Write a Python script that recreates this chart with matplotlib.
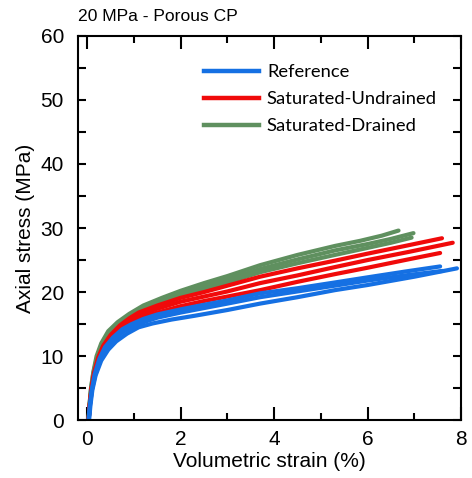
import matplotlib
matplotlib.use("Agg")
import matplotlib.pyplot as plt
from matplotlib.lines import Line2D
from matplotlib.ticker import MultipleLocator

# ---- data (volumetric strain %, axial stress MPa) ----
ref_1_x = [0.03, 0.06, 0.10, 0.16, 0.26, 0.38, 0.55, 0.75, 0.95, 1.2, 1.5, 2.0, 2.56, 3.0, 3.7, 4.5, 5.3, 6.0, 6.8, 7.55]
ref_1_y = [0, 2.4, 4.8, 7.2, 9.6, 11.4, 12.9, 14.2, 15.0, 15.8, 16.5, 17.3, 18.1, 18.7, 19.8, 20.6, 21.5, 22.3, 23.2, 24.0]
ref_2_x = [0.03, 0.06, 0.10, 0.17, 0.28, 0.40, 0.57, 0.77, 1.0, 1.25, 1.5, 2.0, 2.5, 3.0, 3.7, 4.5, 5.3, 6.0, 6.8, 7.6]
ref_2_y = [0, 2.4, 4.7, 7.0, 9.4, 11.1, 12.6, 13.8, 14.7, 15.4, 16.0, 16.8, 17.5, 18.2, 19.2, 20.1, 21.0, 21.8, 22.6, 23.3]
ref_3_x = [0.04, 0.07, 0.11, 0.18, 0.30, 0.45, 0.62, 0.85, 1.1, 1.4, 1.8, 2.3, 3.0, 3.7, 4.5, 5.3, 6.0, 7.0, 7.91]
ref_3_y = [0, 2.4, 4.7, 7.0, 9.3, 11.0, 12.3, 13.5, 14.5, 15.1, 15.7, 16.3, 17.2, 18.2, 19.2, 20.3, 21.1, 22.4, 23.7]

und_1_x = [0.03, 0.055, 0.09, 0.14, 0.23, 0.34, 0.5, 0.7, 0.9, 1.1, 1.5, 2.0, 2.5, 3.0, 3.7, 4.5, 5.3, 6.0, 6.8, 7.59]
und_1_y = [0, 2.4, 4.8, 7.2, 9.7, 11.6, 13.3, 14.8, 15.9, 16.8, 17.9, 19.1, 20.0, 21.0, 22.4, 23.7, 24.9, 26.0, 27.2, 28.4]
und_2_x = [0.03, 0.055, 0.09, 0.15, 0.24, 0.35, 0.5, 0.7, 0.9, 1.1, 1.5, 2.0, 2.5, 3.0, 3.7, 4.5, 5.3, 6.0, 6.9, 7.82]
und_2_y = [0, 2.4, 4.8, 7.2, 9.6, 11.5, 13.1, 14.5, 15.6, 16.4, 17.4, 18.5, 19.3, 20.1, 21.4, 22.6, 23.9, 25.0, 26.3, 27.7]
und_3_x = [0.03, 0.055, 0.09, 0.15, 0.25, 0.36, 0.52, 0.72, 0.92, 1.1, 1.5, 2.0, 2.5, 3.0, 3.7, 4.5, 5.3, 6.0, 6.8, 7.55]
und_3_y = [0, 2.4, 4.8, 7.2, 9.5, 11.3, 12.9, 14.2, 15.2, 15.9, 16.8, 17.8, 18.6, 19.3, 20.3, 21.6, 22.8, 23.8, 25.0, 26.1]

dr_1_x = [0.03, 0.05, 0.08, 0.13, 0.20, 0.30, 0.45, 0.65, 0.9, 1.2, 1.6, 2.0, 2.5, 3.0, 3.7, 4.5, 5.3, 5.84, 6.3, 6.66]
dr_1_y = [0, 2.5, 5.0, 7.5, 10.0, 12.0, 13.9, 15.3, 16.6, 17.9, 19.1, 20.2, 21.4, 22.5, 24.2, 25.8, 27.2, 28.0, 28.8, 29.6]
dr_2_x = [0.03, 0.05, 0.08, 0.13, 0.21, 0.31, 0.46, 0.66, 0.9, 1.2, 1.6, 2.0, 2.5, 3.0, 3.7, 4.5, 5.3, 6.0, 6.5, 6.98]
dr_2_y = [0, 2.4, 4.8, 7.3, 9.8, 11.8, 13.6, 15.0, 16.2, 17.5, 18.7, 19.8, 21.0, 22.0, 23.6, 25.1, 26.5, 27.5, 28.3, 29.2]
dr_3_x = [0.03, 0.05, 0.085, 0.14, 0.22, 0.32, 0.47, 0.67, 0.9, 1.2, 1.6, 2.0, 2.5, 3.0, 3.7, 4.5, 5.3, 6.0, 6.5, 6.94]
dr_3_y = [0, 2.4, 4.8, 7.2, 9.6, 11.6, 13.4, 14.8, 16.0, 17.2, 18.4, 19.4, 20.5, 21.5, 23.1, 24.5, 25.8, 26.9, 27.7, 28.5]

labels = ["Reference", "Saturated-Undrained", "Saturated-Drained"]
colors = ["#1570e3", "#f00a0a", "#5f905f"]

plt.rcParams["font.family"] = ["Liberation Sans", "DejaVu Sans"]

fig = plt.figure(figsize=(4.72, 4.78), dpi=100)
ax = fig.add_axes([0.165, 0.121, 0.812, 0.804])

lw = 3.0
# drained first, reference last (reference sits on top in the knee)
for x, y in [(dr_1_x, dr_1_y), (dr_2_x, dr_2_y), (dr_3_x, dr_3_y)]:
    ax.plot(x, y, color=colors[2], lw=lw, solid_capstyle="round")
for x, y in [(und_1_x, und_1_y), (und_2_x, und_2_y), (und_3_x, und_3_y)]:
    ax.plot(x, y, color=colors[1], lw=lw, solid_capstyle="round")
for x, y in [(ref_1_x, ref_1_y), (ref_2_x, ref_2_y), (ref_3_x, ref_3_y)]:
    ax.plot(x, y, color=colors[0], lw=lw, solid_capstyle="round")

ax.set_xlim(-0.2, 8)
ax.set_ylim(0, 60)
ax.xaxis.set_major_locator(MultipleLocator(2))
ax.xaxis.set_minor_locator(MultipleLocator(1))
ax.yaxis.set_major_locator(MultipleLocator(10))
ax.yaxis.set_minor_locator(MultipleLocator(5))

for s in ax.spines.values():
    s.set_linewidth(1.5)
ax.tick_params(axis="x", which="major", direction="in", length=9.5, width=1.5,
               top=True, labelsize=15, pad=7)
ax.tick_params(axis="x", which="minor", direction="in", length=5, width=1.5, top=True)
ax.tick_params(axis="y", which="both", direction="in", length=6, width=1.5,
               right=True, labelsize=15, pad=10)

ax.set_xlabel("Volumetric strain (%)", fontsize=15, labelpad=2)
ax.set_ylabel("Axial stress (MPa)", fontsize=15, labelpad=4)

fig.text(0.165, 0.966, "20 MPa - Porous CP", fontsize=12.6, ha="left", va="center")

handles = [Line2D([], [], color=c, lw=3.2) for c in colors]
ax.legend(handles, labels, loc="upper left", bbox_to_anchor=(0.309, 0.945), frameon=False,
          prop={"family": ["Lato", "DejaVu Sans"], "size": 13.2},
          handlelength=3.0, handletextpad=0.45, labelspacing=0.6, borderaxespad=0)

fig.savefig("out.png", dpi=100)
